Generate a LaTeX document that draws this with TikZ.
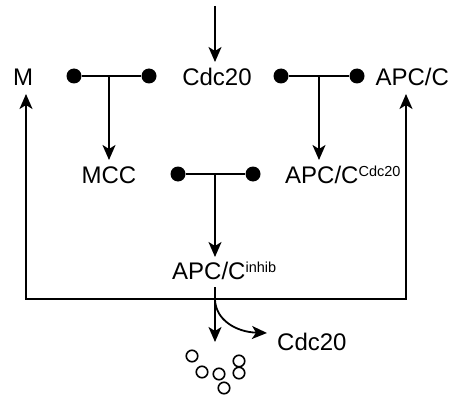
\documentclass[tikz,border=0pt]{standalone}
\usepackage{fontspec}
\setmainfont{Liberation Sans}
\usetikzlibrary{arrows.meta}
\begin{document}
\begin{tikzpicture}[x=1pt,y=-1pt,
  lbl/.style={inner sep=0pt,font=\fontsize{24}{28}\selectfont},
  dot/.style={circle,fill=black,draw=none,minimum size=15pt,inner sep=0pt},
  ring/.style={circle,draw=black,line width=1.6pt,minimum size=11.5pt,inner sep=0pt},
  ln/.style={line width=1.8pt,draw=black},
  tip/.style={},
  arr/.style={ln,-{Stealth[length=15pt,width=13pt,inset=4pt]}}]
\useasboundingbox (0,0) rectangle (449,401);
\newcommand{\supx}[1]{\raisebox{7pt}{\fontsize{14.5}{16}\selectfont #1}}
% text nodes
\node[lbl,anchor=base] (M) at (23,86) {M};
\node[lbl,anchor=base] (cdcTop) at (217,86) {Cdc20};
\node[lbl,anchor=base west] (apc) at (375.3,86) {APC/C};
\node[lbl,anchor=base] (mcc) at (109,183) {MCC};
\node[lbl,anchor=base west] (apccdc) at (285,183) {APC/C\supx{Cdc20}};
\node[lbl,anchor=base west] (apcinh) at (172,279) {APC/C\supx{inhib}};
\node[lbl,anchor=base west] (cdcBot) at (277,350) {Cdc20};
% dots
\node[dot] (d1) at (74,76) {};
\node[dot] (d2) at (149,76) {};
\node[dot] (d3) at (281,76) {};
\node[dot] (d4) at (357,76) {};
\node[dot] (d5) at (178,174) {};
\node[dot] (d6) at (253,174) {};
% rings
\node[ring] (r1) at (192,356) {};
\node[ring] (r2) at (202,372) {};
\node[ring] (r3) at (219,374) {};
\node[ring] (r4) at (224,388) {};
\node[ring] (r5) at (239,361) {};
\node[ring] (r6) at (239,373) {};
% coordinates
\coordinate (src) at (215,6);
\coordinate (tCdc) at (215,62);
\coordinate (j1) at (109,76);
\coordinate (t1) at (109,160);
\coordinate (j2) at (319,76);
\coordinate (t2) at (319,160);
\coordinate (j3) at (215,174);
\coordinate (t3) at (215,257);
\coordinate (lt) at (26,94);
\coordinate (bl) at (26,299);
\coordinate (br) at (406,299);
\coordinate (rt) at (406,94);
\coordinate (s4) at (215,287);
\coordinate (t4) at (215,342);
\coordinate (c0) at (215,300);
\coordinate (t5) at (267,333);
% connectors
\draw[arr] (src) -- (tCdc);
\draw[ln] (d1) -- (d2);
\draw[ln] (d3) -- (d4);
\draw[ln] (d5) -- (d6);
\draw[arr] (j1) -- (t1);
\draw[arr] (j2) -- (t2);
\draw[arr] (j3) -- (t3);
\draw[ln,{Stealth[length=15pt,width=13pt,inset=4pt]}-{Stealth[length=15pt,width=13pt,inset=4pt]}] (lt) -- (bl) -- (br) -- (rt);
\draw[arr] (s4) -- (t4);
\draw[arr] (c0) .. controls (216,320) and (236,332) .. (t5);
\end{tikzpicture}
\end{document}
